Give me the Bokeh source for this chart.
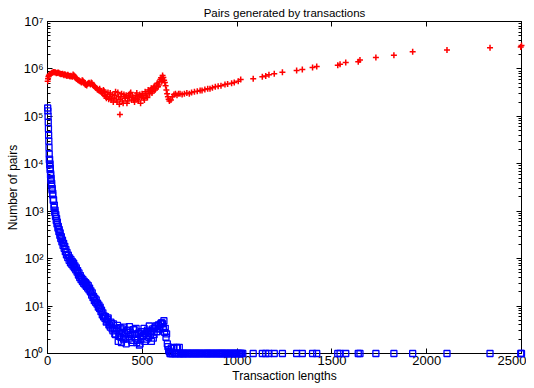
from bokeh.plotting import figure
from bokeh.models import FixedTicker, CustomJSTickFormatter, LinearAxis, LogAxis, Range1d
from bokeh.embed import file_html
from bokeh.resources import INLINE

TITLE = "Pairs generated by transactions"
X_LABEL = "Transaction lengths"
Y_LABEL = "Number of pairs"
x_ticks = [0, 500, 1000, 1500, 2000, 2500]
y_ticks = [1, 10, 100, 1e3, 1e4, 1e5, 1e6, 1e7]

# red "+" series (pairs generated)
red_x = [1, 3, 5, 7, 11, 19, 27, 35, 43, 51, 59, 67, 75, 83, 91, 99, 107, 115, 123, 131,
         139, 147, 155, 163, 171, 179, 187, 195, 203, 211, 219, 227, 235, 243, 251, 259,
         267, 275, 283, 291, 299, 307, 315, 323, 331, 339, 347, 355, 363, 371, 379, 382,
         387, 395, 403, 411, 419, 427, 435, 443, 451, 459, 467, 475, 483, 491, 499, 507,
         515, 523, 531, 539, 547, 555, 563, 571, 579, 587, 595, 603, 607, 611, 619, 627,
         635, 643,
         651, 659, 667, 675, 683, 691, 699, 710, 722, 735, 748, 760, 775, 790, 805, 815,
         830, 845, 857, 870, 885, 900, 915, 936, 950, 971, 985, 1006, 1019,
         1085, 1133, 1151, 1168, 1196, 1239, 1314, 1344, 1398, 1420, 1531, 1543, 1573,
         1639, 1648, 1732, 1827, 1926, 2107, 2334, 2496, 2500]
red_y = [5.5e5, 6.2e5, 6.8e5, 7.3e5, 7.6e5, 8.0e5, 8.3e5, 8.5e5, 8.4e5, 8.2e5, 8.3e5, 7.9e5,
         7.8e5, 7.6e5, 7.7e5, 7.3e5, 7.5e5, 7.1e5, 7.2e5, 6.8e5, 7.4e5, 6.5e5, 6.1e5, 5.8e5,
         5.5e5, 5.2e5, 5.6e5, 4.9e5, 4.6e5, 4.8e5, 5.1e5, 4.7e5, 5.0e5, 4.4e5, 4.2e5, 3.9e5,
         3.6e5, 3.8e5, 3.3e5, 3.0e5, 3.4e5, 2.6e5, 2.9e5, 2.3e5, 3.1e5, 2.4e5, 2.0e5, 2.8e5,
         2.2e5, 3.2e5, 1.8e5, 1.1e5, 2.6e5, 2.1e5, 2.9e5, 2.4e5, 1.9e5, 2.7e5, 3.0e5, 2.2e5,
         2.5e5, 2.0e5, 2.8e5, 2.3e5, 2.6e5, 1.9e5, 3.0e5, 2.4e5, 3.3e5, 2.7e5, 3.6e5, 3.0e5,
         3.9e5, 3.4e5, 4.3e5, 3.8e5, 5.0e5, 4.6e5, 6.0e5, 5.4e5, 7.3e5, 6.6e5, 5.2e5, 3.6e5,
         2.6e5, 2.1e5,
         2.2e5, 2.6e5, 2.9e5, 3.0e5, 2.8e5, 3.0e5, 3.0e5, 2.9e5, 3.0e5, 3.1e5, 3.0e5, 3.2e5,
         3.3e5, 3.4e5, 3.5e5, 3.5e5, 3.7e5, 3.8e5, 3.8e5, 4.0e5, 4.2e5, 4.3e5, 4.4e5, 4.7e5,
         4.8e5, 5.0e5, 5.2e5, 5.5e5, 6.0e5,
         6.2e5, 6.8e5, 7.1e5, 7.5e5, 7.9e5, 8.5e5, 9.3e5, 9.7e5, 1.07e6, 1.12e6, 1.2e6, 1.26e6,
         1.37e6, 1.41e6, 1.55e6, 1.74e6, 1.95e6, 2.3e6, 2.5e6, 2.8e6, 2.9e6, 3.1e6]
# more red points inside the dense band
red_x2 = [15, 23, 31, 39, 47, 55, 63, 71, 79, 87, 95, 103, 111, 119, 127, 135, 143, 151, 159,
          167, 175, 183, 191, 199, 207, 215, 223, 231, 239, 247, 255, 263, 271, 279, 287,
          295, 303, 311, 319, 327, 335, 343, 351, 359, 367, 375, 383, 391, 399, 407, 415,
          423, 431, 439, 447, 455, 463, 471, 479, 487, 495, 503, 511, 519, 527, 535, 543,
          551, 559, 567, 575, 583, 591, 599, 605, 615, 623, 631, 639]
red_y2 = [7.8e5, 8.3e5, 8.6e5, 8.5e5, 8.1e5, 8.4e5, 8.0e5, 7.7e5, 7.9e5, 7.4e5, 7.5e5, 7.1e5,
          7.3e5, 6.9e5, 7.0e5, 7.6e5, 7.0e5, 6.3e5, 5.9e5, 5.7e5, 5.4e5, 5.8e5, 5.3e5, 4.7e5,
          4.5e5, 5.0e5, 4.9e5, 5.2e5, 4.6e5, 4.3e5, 4.0e5, 3.7e5, 3.5e5, 3.5e5, 3.1e5, 3.6e5,
          2.8e5, 2.4e5, 3.2e5, 2.6e5, 2.2e5, 2.9e5, 2.4e5, 3.3e5, 2.0e5, 2.6e5, 2.3e5, 3.0e5,
          1.9e5, 2.6e5, 2.8e5, 2.1e5, 2.5e5, 3.2e5, 2.7e5, 2.2e5, 2.4e5, 3.1e5, 2.1e5, 2.9e5,
          2.5e5, 2.8e5, 2.2e5, 3.0e5, 2.5e5, 3.3e5, 3.6e5, 3.1e5, 4.0e5, 3.6e5, 4.6e5, 4.2e5,
          5.4e5, 6.5e5, 6.2e5, 5.8e5, 4.4e5, 3.0e5, 2.3e5]

# blue square series
blue_x = [1, 2, 3, 4, 5, 6, 7, 8, 9, 10, 12, 14, 16, 18, 21, 24, 27, 30, 34, 38, 42, 46, 50,
          55, 60, 65, 70, 76, 82, 88, 94, 100, 107, 114, 121, 128, 135, 142, 149, 156, 163,
          170, 177, 184, 191, 198, 205, 212, 219, 226, 233, 240, 247, 254, 261, 268, 275,
          282, 289, 296, 303, 310, 317, 324, 331, 338, 345, 352, 359, 366, 373, 380, 387,
          394, 401, 408, 415, 422, 429, 436, 443, 450, 457, 464, 471, 478, 485, 492, 499,
          506, 513, 520, 527, 534, 541, 548, 555, 562, 569, 576, 583, 590, 597, 604, 611,
          618, 625, 632, 639, 646, 653, 660, 667, 674, 681, 688, 695,
          702, 713, 721, 735, 744, 756, 768, 779, 790, 801, 812, 826, 838, 847, 859, 870,
          882, 893, 905, 916, 925, 938, 949, 961, 972, 984, 995, 1006, 1019, 1030,
          1085, 1133, 1151, 1168, 1196, 1239, 1314, 1344, 1398, 1420, 1531, 1543, 1573,
          1639, 1648, 1732, 1827, 1926, 2107, 2334, 2496, 2500]
blue_y = [1.5e5, 1.3e5, 1.0e5, 7.5e4, 5.5e4, 4.0e4, 3.0e4, 2.2e4, 1.6e4, 1.2e4, 9.5e3, 7.5e3,
          5.8e3, 4.5e3, 3.6e3, 2.8e3, 2.2e3, 1.7e3, 1.2e3, 950, 780, 640, 540, 440, 370, 310,
          265, 225, 190, 165, 140, 120, 105, 92, 82, 76, 70, 64, 58, 52, 45, 40, 36, 33, 30,
          28, 26, 24, 22, 20, 17, 15, 13, 12, 11, 9.5, 8.8, 7.6, 6.5, 5.9, 5.5, 4.6, 5.2, 4.0,
          3.6, 4.3, 3.0, 3.4, 2.5, 3.1, 1.8, 2.7, 2.2, 3.3, 2.0, 2.6, 1.6, 3.0, 2.3, 2.8, 1.9,
          2.5, 3.2, 2.1, 1.7, 2.6, 1.5, 2.0, 2.9, 2.4, 1.8, 2.7, 3.1, 2.2, 2.9, 1.8, 3.3, 2.5,
          3.6, 2.9, 3.9, 3.3, 4.2, 4.4, 3.5, 2.8, 2.2, 1.6, 1.2, 1.0, 1.3, 1.0, 1.35, 1.0,
          1.35, 1.0, 1.35,
          1, 1, 1, 1, 1, 1, 1, 1, 1, 1, 1, 1, 1, 1, 1, 1, 1, 1, 1, 1, 1, 1, 1, 1, 1, 1, 1, 1,
          1, 1,
          1, 1, 1, 1, 1, 1, 1, 1, 1, 1, 1, 1, 1, 1, 1, 1, 1, 1, 1, 1, 1, 1]
# more blue points inside the dense band
blue_x2 = [11, 13, 15, 17, 19, 22, 25, 28, 32, 36, 40, 44, 48, 52, 57, 62, 67, 73, 79, 85,
           91, 97, 103, 110, 117, 124, 131, 138, 145, 152, 159, 166, 173, 180, 187, 194,
           201, 208, 215, 222, 229, 236, 243, 250, 257, 264, 271, 278, 285, 292, 299, 306,
           313, 320, 327, 334, 341, 348, 355, 362, 369, 376, 383, 390, 397, 404, 411, 418,
           425, 432, 439, 446, 453, 460, 467, 474, 481, 488, 495, 502, 509, 516, 523, 530,
           537, 544, 551, 558, 565, 572, 579, 586, 593, 600, 607, 614, 621, 628, 635, 642,
           650, 657, 664, 671, 678, 685, 692, 699, 707, 717, 728, 740, 750, 762, 773, 784,
           795, 806, 818, 832, 842, 853, 865, 876, 888, 899, 910, 921, 932, 943, 955, 966,
           978, 990, 1000, 1012, 1024]
blue_y2 = [1.25e4, 1.0e4, 8.0e3, 6.2e3, 4.9e3, 3.9e3, 3.0e3, 2.4e3, 1.75e3, 1.35e3, 1.05e3,
           850, 700, 590, 480, 410, 350, 290, 245, 210, 182, 155, 135, 118, 104, 95, 86, 80,
           70, 64, 56, 50, 44, 39, 36, 33, 31, 29, 27, 24, 21, 19, 16, 14.5, 13.5, 11.5, 10.5,
           9.5, 8.2, 7.2, 6.2, 6.0, 4.8, 5.6, 4.0, 4.6, 3.3, 4.2, 2.6, 3.4, 3.9, 2.3, 3.5, 1.7,
           2.8, 3.6, 2.1, 3.1, 2.0, 3.7, 2.5, 1.7, 3.2, 2.6, 3.4, 1.9, 2.7, 1.6, 2.9, 2.3, 3.4,
           2.6, 2.0, 2.9, 3.8, 2.6, 3.0, 2.1, 3.4, 3.8, 2.9, 4.0, 3.3, 4.4, 4.2, 4.9, 3.4, 2.6,
           1.4, 1.1,
           1, 1, 1.3, 1, 1, 1.3, 1, 1, 1, 1, 1, 1, 1, 1, 1, 1, 1, 1, 1, 1, 1, 1, 1, 1, 1, 1,
           1, 1, 1, 1, 1, 1, 1, 1, 1, 1, 1]

FONT = "Liberation Sans"

p = figure(frame_width=474, frame_height=332, y_axis_type="log",
           x_range=Range1d(0, 2500), y_range=Range1d(1, 1e7),
           output_backend="svg", toolbar_location=None,
           min_border_left=47, min_border_right=5, min_border_top=21, min_border_bottom=28)

p.title.text = TITLE
p.title.text_font = FONT
p.title.text_font_size = "11.5px"
p.title.text_font_style = "normal"
p.title.text_color = "black"
p.title.align = "center"
p.title.standoff = 6
p.title.offset = 0

p.xgrid.visible = False
p.ygrid.visible = False
p.outline_line_color = "black"
p.background_fill_color = "white"
p.border_fill_color = "white"

sup_fmt = CustomJSTickFormatter(code="""
const sup = {'0':'\u2070','1':'\u00b9','2':'\u00b2','3':'\u00b3','4':'\u2074','5':'\u2075','6':'\u2076','7':'\u2077','8':'\u2078','9':'\u2079','-':'\u207b'};
const e = Math.round(Math.log10(tick));
return '10' + String(e).split('').map(c => sup[c]).join('');
""")
blank_fmt = CustomJSTickFormatter(code="return '';")

minor = []
for d in y_ticks[:-1]:
    for m in range(2, 10):
        minor.append(d * m)
yticker = FixedTicker(ticks=y_ticks, minor_ticks=minor)
xticker = FixedTicker(ticks=x_ticks)

def style(ax):
    ax.axis_line_color = "black"
    ax.axis_line_width = 1
    ax.major_tick_in = 5
    ax.major_tick_out = 0
    ax.minor_tick_in = 3
    ax.minor_tick_out = 0
    ax.major_tick_line_color = "black"
    ax.minor_tick_line_color = "black"
    ax.major_label_text_font = FONT
    ax.major_label_text_font_size = "13px"
    ax.major_label_text_color = "black"
    ax.axis_label_text_font = FONT
    ax.axis_label_text_font_size = "12px"
    ax.axis_label_text_font_style = "normal"
    ax.axis_label_text_color = "black"

xa = p.xaxis[0]
xa.ticker = xticker
xa.axis_label = X_LABEL
xa.major_label_standoff = 2
xa.axis_label_standoff = 1
style(xa)

ya = p.yaxis[0]
ya.ticker = yticker
ya.formatter = sup_fmt
ya.axis_label = Y_LABEL
ya.major_label_standoff = 4
ya.axis_label_standoff = 0
style(ya)

top = LinearAxis(ticker=xticker, formatter=blank_fmt, major_label_standoff=0)
style(top)
p.add_layout(top, "above")
right = LogAxis(ticker=yticker, formatter=blank_fmt, major_label_standoff=0)
style(right)
p.add_layout(right, "right")

p.scatter(red_x + red_x2, red_y + red_y2, marker="cross", size=6, line_color="#ff0000",
          line_width=1.5, level="overlay")
p.scatter(blue_x + blue_x2, blue_y + blue_y2, marker="square", size=6, line_color="#0000ff",
          fill_color=None, line_width=1.3, level="overlay")

open("out.html", "w").write(file_html(p, INLINE))
